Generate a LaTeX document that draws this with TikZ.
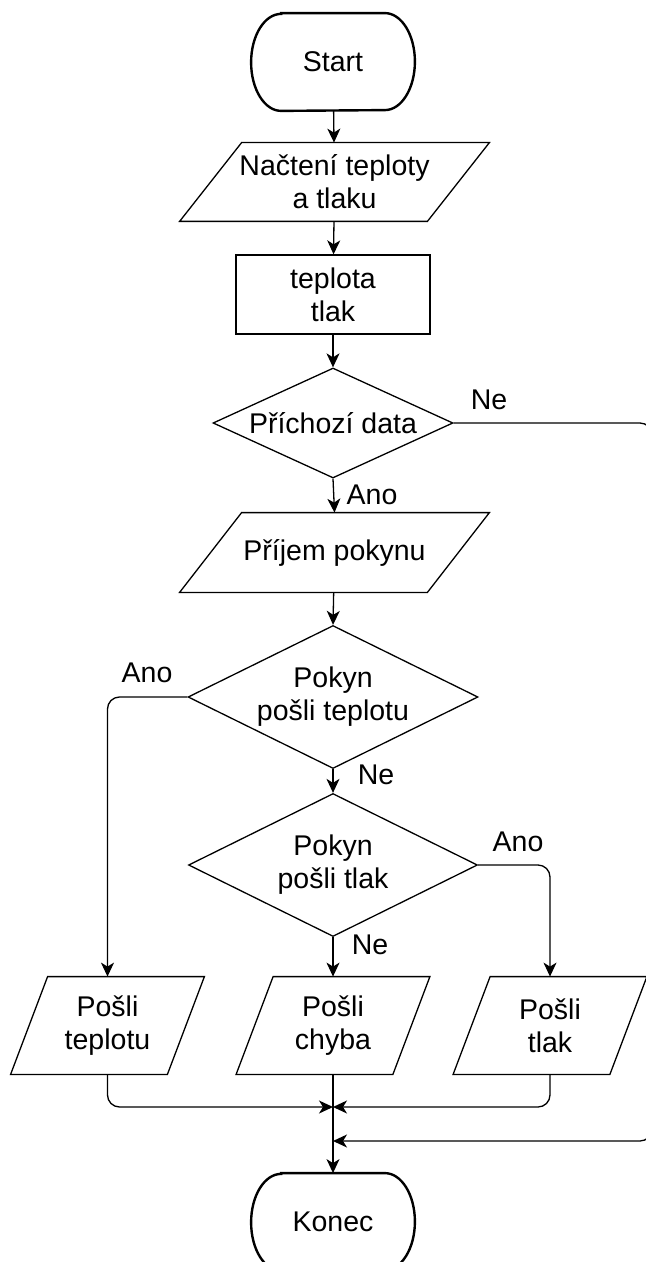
\documentclass[tikz,border=0pt]{standalone}
\usepackage{fontspec}
\setmainfont{Liberation Sans}
\usetikzlibrary{shapes.geometric,arrows.meta}

\tikzset{
  txt/.style={font=\fontsize{14.25pt}{16.5pt}\selectfont, align=center, inner sep=0pt},
  terminal/.style={minimum width=81.5pt, minimum height=48.5pt, txt},
  procbox/.style={draw, line width=0.65pt, minimum width=97pt, minimum height=39.5pt, txt},
  iobox/.style={txt},
  decision/.style={diamond, draw, line width=0.65pt, inner sep=0pt},
  outline/.style={line width=0.65pt, line join=miter},
  termline/.style={line width=1.2pt},
  flow/.style={line width=0.65pt, rounded corners=6pt,
    -{Stealth[length=7pt, width=6.5pt, inset=2pt]}},
  lab/.style={txt}
}

\begin{document}
\begin{tikzpicture}[x=0.5pt, y=-0.5pt]
  \useasboundingbox (0,0) rectangle (646,1262);

  % start and input
  \node[terminal] (start) at (333,62) {Start};
  \node[iobox, minimum width=123.5pt, minimum height=39pt] (read) at (334.5,182)
    {Načtení teploty\\a tlaku};
  \node[procbox] (vars) at (333,294.5) {teplota\\tlak};

  % incoming data test
  \node[decision, minimum width=120pt, minimum height=55pt,
        label={[txt]center:Příchozí data}] (dIn) at (333,423) {};
  \node[iobox, minimum width=123.5pt, minimum height=39.5pt] (cmd) at (334.5,552.5)
    {Příjem pokynu};

  % command tests
  \node[decision, minimum width=145pt, minimum height=71.5pt,
        label={[txt]center:{Pokyn\\pošli teplotu}}] (dT) at (333,697) {};
  \node[decision, minimum width=144.5pt, minimum height=71.5pt,
        label={[txt]center:{Pokyn\\pošli tlak}}] (dP) at (333,865) {};

  % outputs
  \node[iobox, minimum width=78pt, minimum height=48.5pt] (outT) at (107.5,1025.5)
    {Pošli\\teplotu};
  \node[iobox, minimum width=78pt, minimum height=48.5pt] (outE) at (333,1025.5)
    {Pošli\\chyba};
  \node[iobox, minimum width=78pt, minimum height=48.5pt] (outP) at (550,1025.5)
    {Pošli\\tlak};

  \node[terminal] (stop) at (333,1222) {Konec};

  % terminator outlines with elliptic ends
  \foreach \n in {start, stop}
    \draw[termline] ([xshift=15pt]\n.north west) -- ([xshift=-15pt]\n.north east)
      arc[start angle=90, end angle=-90, x radius=15pt, y radius=24.25pt]
      -- ([xshift=15pt]\n.south west)
      arc[start angle=270, end angle=90, x radius=15pt, y radius=24.25pt] -- cycle;

  % parallelogram outlines around the input/output nodes (half slant in pt)
  \foreach \n/\s in {read/15.5, cmd/15.5, outT/9.25, outE/9.25, outP/9.25}
    \draw[outline] ([xshift=-\s pt]\n.south west) -- ([xshift=-\s pt]\n.south east)
      -- ([xshift=\s pt]\n.north east) -- ([xshift=\s pt]\n.north west) -- cycle;

  % junctions on the final line
  \coordinate (m1) at (333,1107);
  \coordinate (m2) at (333,1141);
  \coordinate (loopTop) at (652,423);
  \coordinate (loopBot) at (652,1141);

  % main flow
  \draw[flow] (start) -- (read);
  \draw[flow] (read) -- (vars);
  \draw[flow] (vars) -- (dIn);
  \draw[flow] (dIn.south) -- (cmd.north);
  \draw[flow] (cmd) -- (dT.north);
  \draw[flow] (dT.south) -- (dP.north);
  \draw[flow] (dP.south) -- (outE.north);
  \draw[flow] (dT.west) -| (outT.north);
  \draw[flow] (dP.east) -| (outP.north);

  % no incoming data: around the right side straight to the end
  \draw[flow] (dIn.east) -- (loopTop) -- (loopBot) -- (m2);

  % merging of the outputs
  \draw[flow] (outT.south) |- (m1);
  \draw[flow] (outP.south) |- (m1);
  \draw[flow] (outE.south) -- (stop.north);

  % branch labels
  \node[lab] (lNe1)  at (489,400) {Ne};
  \node[lab] (lAno1) at (372,495) {Ano};
  \node[lab] (lAno2) at (147,673) {Ano};
  \node[lab] (lNe2)  at (376,775) {Ne};
  \node[lab] (lAno3) at (518,842) {Ano};
  \node[lab] (lNe3)  at (370,945) {Ne};
\end{tikzpicture}
\end{document}
